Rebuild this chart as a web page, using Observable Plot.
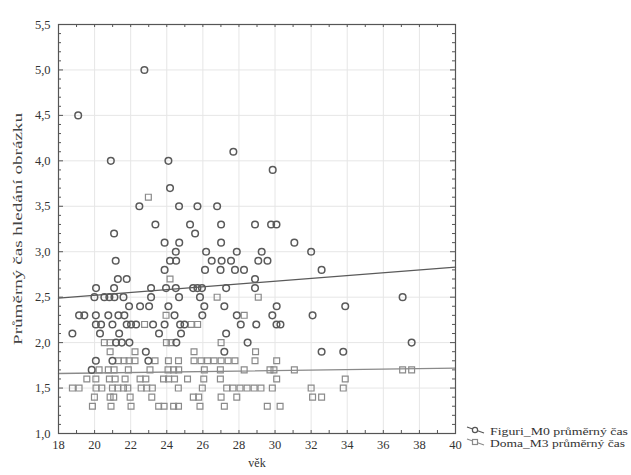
<!DOCTYPE html>
<html><head><meta charset="utf-8">
<script src="https://cdn.jsdelivr.net/npm/d3@7"></script>
<script src="https://cdn.jsdelivr.net/npm/@observablehq/plot@0.6"></script>
<style>
body{margin:0;background:#fff}
#wrap{position:relative;width:631px;height:475px;overflow:hidden;font-family:"Liberation Serif","Times New Roman",serif}
#wrap svg text{font-family:"Liberation Serif","Times New Roman",serif}
#legend{position:absolute;left:0;top:0}
</style>
</head><body><div id="wrap"></div>
<script>
// Figuri_M0 průměrný čas: [věk, čas]
const figuriPoints = [
[22.76,5.0],[19.09,4.5],[27.69,4.1],[20.90,4.0],[24.09,4.0],[29.87,3.9],[24.18,3.7],
[22.48,3.5],[24.68,3.5],[25.70,3.5],[26.79,3.5],
[23.37,3.3],[25.29,3.3],[27.01,3.3],[28.89,3.3],[29.78,3.3],[30.08,3.3],
[21.08,3.2],[25.57,3.2],
[23.88,3.1],[24.69,3.1],[27.01,3.1],[31.07,3.1],
[24.50,3.0],[26.18,3.0],[27.88,3.0],[29.26,3.0],[32.00,3.0],
[21.17,2.9],[24.18,2.9],[24.52,2.9],[26.49,2.9],[27.04,2.9],[27.56,2.9],[29.07,2.9],[29.58,2.9],
[23.88,2.8],[26.12,2.8],[26.98,2.8],[27.78,2.8],[28.28,2.8],[32.58,2.8],
[21.29,2.7],[21.78,2.7],[28.89,2.7],
[20.08,2.6],[21.08,2.6],[23.13,2.6],[23.96,2.6],[24.50,2.6],[25.46,2.6],[25.70,2.6],[25.95,2.6],[27.29,2.6],[28.89,2.6],
[19.99,2.5],[20.54,2.5],[20.82,2.5],[21.10,2.5],[21.60,2.5],[23.13,2.5],[24.68,2.5],[25.84,2.5],[37.07,2.5],
[21.91,2.4],[22.52,2.4],[23.02,2.4],[24.09,2.4],[26.08,2.4],[27.19,2.4],[30.09,2.4],[33.89,2.4],
[19.14,2.3],[19.43,2.3],[20.07,2.3],[20.76,2.3],[21.32,2.3],[21.65,2.3],[24.43,2.3],[25.97,2.3],[27.88,2.3],[29.85,2.3],[32.08,2.3],
[20.07,2.2],[20.36,2.2],[20.99,2.2],[21.78,2.2],[22.02,2.2],[22.30,2.2],[23.24,2.2],[23.88,2.2],[24.74,2.2],[24.98,2.2],[28.10,2.2],[28.96,2.2],[30.08,2.2],[30.30,2.2],
[18.77,2.1],[20.30,2.1],[21.36,2.1],[23.57,2.1],[24.79,2.1],[27.29,2.1],
[21.19,2.0],[21.51,2.0],[21.93,2.0],[24.53,2.0],[28.48,2.0],[37.57,2.0],
[22.84,1.9],[27.19,1.9],[32.58,1.9],[33.78,1.9],
[20.07,1.8],[20.99,1.8],[22.98,1.8],
[19.84,1.7]
];
// Doma_M3 průměrný čas: [věk, čas]
const domaPoints = [
[22.98,3.6],[24.18,2.7],[26.79,2.5],[29.07,2.5],[23.96,2.3],[28.29,2.3],
[22.77,2.2],[25.35,2.2],[25.71,2.2],
[20.54,2.0],[20.86,2.0],[23.98,2.0],[24.24,2.0],[27.01,2.0],
[20.86,1.9],[22.24,1.9],[25.51,1.9],[28.92,1.9],
[21.32,1.8],[21.63,1.8],[21.91,1.8],[22.24,1.8],[23.35,1.8],[24.09,1.8],[24.65,1.8],[25.51,1.8],[25.90,1.8],[26.26,1.8],[26.62,1.8],[27.01,1.8],[27.40,1.8],[27.78,1.8],[28.89,1.8],[30.09,1.8],
[20.25,1.7],[20.76,1.7],[21.08,1.7],[21.87,1.7],[23.07,1.7],[24.07,1.7],[24.38,1.7],[24.66,1.7],[26.08,1.7],[26.97,1.7],[28.29,1.7],[29.72,1.7],[29.94,1.7],[31.07,1.7],[37.07,1.7],[37.57,1.7],
[19.57,1.6],[20.07,1.6],[20.82,1.6],[21.14,1.6],[21.69,1.6],[22.52,1.6],[22.84,1.6],[23.82,1.6],[24.10,1.6],[24.43,1.6],[25.15,1.6],[26.05,1.6],[26.97,1.6],[30.09,1.6],[33.89,1.6],
[18.77,1.5],[19.14,1.5],[20.08,1.5],[20.40,1.5],[20.99,1.5],[21.29,1.5],[21.60,1.5],[21.84,1.5],[22.58,1.5],[22.89,1.5],[23.20,1.5],[24.64,1.5],[25.97,1.5],[27.32,1.5],[27.67,1.5],[28.06,1.5],[28.45,1.5],[28.84,1.5],[29.22,1.5],[29.85,1.5],[32.00,1.5],[33.78,1.5],
[19.99,1.4],[20.86,1.4],[21.06,1.4],[21.97,1.4],[23.17,1.4],[25.47,1.4],[25.77,1.4],[27.01,1.4],[27.88,1.4],[32.08,1.4],[32.58,1.4],
[19.88,1.3],[20.91,1.3],[22.02,1.3],[23.55,1.3],[23.85,1.3],[24.38,1.3],[24.65,1.3],[25.84,1.3],[27.19,1.3],[29.57,1.3],[30.28,1.3]
];
// fitted linear regression lines (endpoints)
const figuriFit = [[18, 2.49], [40, 2.83]];
const domaFit = [[18, 1.66], [40, 1.72]];
// axis ticks
const xTicks = [18,20,22,24,26,28,30,32,34,36,38,40];
const xMinor = d3.range(18, 40.01, 1);
const yTicks = [1.0,1.5,2.0,2.5,3.0,3.5,4.0,4.5,5.0,5.5];
const yMinor = d3.range(10, 56, 1).map(d => d / 10);
const xTitle = "věk";
const yTitle = "Průměrný čas hledání obrázku";
const legendLabels = ["Figuri_M0 průměrný čas", "Doma_M3 průměrný čas"];

const FONT = "Liberation Serif, Times New Roman, serif";
const W = 631, H = 475, mL = 58, mR = 176, mT = 24, mB = 42;
const fW = W - mL - mR, fH = H - mT - mB;
const fmt = d => d.toFixed(1).replace(".", ",");
const fmtMinor = yMinor.filter(v => Math.abs(v * 2 - Math.round(v * 2)) > 1e-6);

const chart = Plot.plot({
  width: W, height: H,
  marginLeft: mL, marginRight: mR, marginTop: mT, marginBottom: mB,
  x: {domain: [18, 40]},
  y: {domain: [1, 5.5]},
  style: {fontFamily: FONT, fontSize: "12px", color: "#333", background: "#fff"},
  marks: [
    Plot.gridX(xTicks.slice(1, -1), {stroke: "#e6e6e6", strokeOpacity: 1}),
    Plot.gridY(yTicks.slice(1, -1), {stroke: "#e6e6e6", strokeOpacity: 1}),
    Plot.axisX(xTicks, {tickSize: 0, tickPadding: 7, tickFormat: d => String(d), label: null, fontSize: 12.5, fontFamily: FONT, fill: "#333"}),
    Plot.axisY(yTicks, {tickSize: 0, tickPadding: 8, tickFormat: fmt, label: null, fontSize: 12.5, fontFamily: FONT, fill: "#333"}),
    Plot.text([xTitle], {frameAnchor: "bottom", dy: 33, fontSize: 12, fontFamily: FONT, fill: "#333"}),
    Plot.text([yTitle], {frameAnchor: "left", textAnchor: "middle", dx: -40, rotate: -90, fontSize: 11.5, fontFamily: FONT, fill: "#444"}),
    // inner ticks
    Plot.tickY(fmtMinor, {y: d => d, stroke: "#555", insetRight: fW - 3}),
    Plot.tickY(yTicks, {y: d => d, stroke: "#555", insetRight: fW - 5}),
    Plot.tickY(fmtMinor, {y: d => d, stroke: "#555", insetLeft: fW - 3}),
    Plot.tickY(yTicks, {y: d => d, stroke: "#555", insetLeft: fW - 5}),
    Plot.tickX(xMinor, {x: d => d, stroke: "#555", insetTop: fH - 3}),
    Plot.tickX(xMinor, {x: d => d, stroke: "#555", insetBottom: fH - 3}),
    Plot.line(domaFit, {x: d => d[0], y: d => d[1], stroke: "#8a8a8a", strokeWidth: 1.3}),
    Plot.line(figuriFit, {x: d => d[0], y: d => d[1], stroke: "#5a5a5a", strokeWidth: 1.3}),
    Plot.dot(domaPoints, {x: d => d[0], y: d => d[1], symbol: "square", r: 3.3, stroke: "#8a8a8a", strokeWidth: 1.2, fill: "none"}),
    Plot.dot(figuriPoints, {x: d => d[0], y: d => d[1], symbol: "circle", r: 3.3, stroke: "#5a5a5a", strokeWidth: 1.5, fill: "none"}),
    Plot.frame({stroke: "#555", strokeWidth: 1.2})
  ]
});
const wrap = document.getElementById("wrap");
wrap.appendChild(chart);

// stretch the rotated y title to its length in the reference
for (const t of chart.querySelectorAll("text")) {
  if (t.textContent === yTitle) {
    t.setAttribute("textLength", 232);
    t.setAttribute("lengthAdjust", "spacingAndGlyphs");
  }
}

// legend (outside the frame, bottom right)
const ns = "http://www.w3.org/2000/svg";
const leg = document.createElementNS(ns, "svg");
leg.setAttribute("id", "legend");
leg.setAttribute("width", W); leg.setAttribute("height", H);
const items = [
  {label: legendLabels[0], y: 431, stroke: "#555", sym: "circle"},
  {label: legendLabels[1], y: 443, stroke: "#8a8a8a", sym: "square"}
];
for (const it of items) {
  const l = document.createElementNS(ns, "line");
  l.setAttribute("x1", 467); l.setAttribute("y1", it.y - 4);
  l.setAttribute("x2", 484); l.setAttribute("y2", it.y + 2);
  l.setAttribute("stroke", it.stroke); l.setAttribute("stroke-width", 1.1);
  leg.appendChild(l);
  let s;
  if (it.sym === "circle") {
    s = document.createElementNS(ns, "circle");
    s.setAttribute("cx", 475); s.setAttribute("cy", it.y - 1); s.setAttribute("r", 2.6);
  } else {
    s = document.createElementNS(ns, "rect");
    s.setAttribute("x", 472.5); s.setAttribute("y", it.y - 3.5); s.setAttribute("width", 5); s.setAttribute("height", 5);
  }
  s.setAttribute("fill", "#fff"); s.setAttribute("stroke", it.stroke); s.setAttribute("stroke-width", 1.2);
  leg.appendChild(s);
  const t = document.createElementNS(ns, "text");
  t.setAttribute("x", 490); t.setAttribute("y", it.y + 3.5);
  t.setAttribute("font-family", FONT); t.setAttribute("font-size", 10.5);
  t.setAttribute("fill", "#333");
  t.setAttribute("textLength", it.sym === "circle" ? 138 : 135);
  t.setAttribute("lengthAdjust", "spacingAndGlyphs");
  t.textContent = it.label;
  leg.appendChild(t);
}
wrap.appendChild(leg);
</script>
</body></html>
